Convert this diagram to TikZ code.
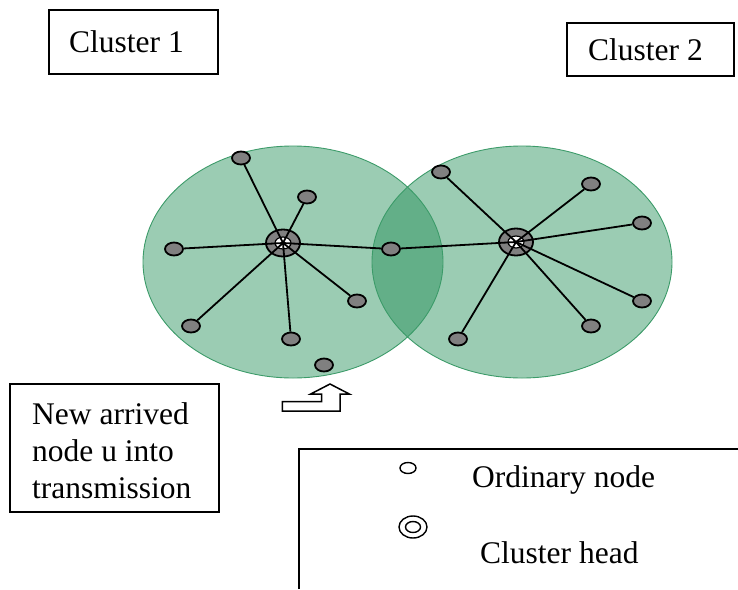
\documentclass[tikz,border=0pt]{standalone}
\usepackage{fontspec}
\setmainfont{Liberation Serif}
\usetikzlibrary{shapes.geometric}

\definecolor{zonefill}{RGB}{28,139,82}
\definecolor{zoneedge}{RGB}{60,155,105}
\definecolor{nodegrey}{RGB}{128,128,128}

\pgfdeclarelayer{zones}
\pgfdeclarelayer{links}
\pgfsetlayers{zones,links,main}

\tikzset{
  zone/.style={fill=zonefill, fill opacity=0.44},
  zoneline/.style={draw=zoneedge, line width=0.9pt},
  ordnode/.style={ellipse, draw=black, fill=nodegrey, line width=1.8pt,
    minimum width=18pt, minimum height=13pt, inner sep=0pt},
  headnode/.style={ellipse, draw=black, fill=nodegrey, line width=1.8pt,
    minimum width=34pt, minimum height=27pt, inner sep=0pt},
  headhole/.style={ellipse, draw=black, fill=white, line width=1.2pt,
    minimum width=16pt, minimum height=12pt, inner sep=0pt},
  link/.style={draw=black, line width=1.8pt},
  labelbox/.style={draw=black, line width=1.2pt, inner sep=0pt},
  legendord/.style={ellipse, draw=black, fill=white, line width=1.4pt,
    minimum width=16pt, minimum height=11pt, inner sep=0pt},
  legendouter/.style={ellipse, draw=black, fill=white, line width=1.4pt,
    minimum width=28pt, minimum height=22pt, inner sep=0pt},
  legendinner/.style={ellipse, draw=black, fill=white, line width=1.4pt,
    minimum width=15pt, minimum height=11pt, inner sep=0pt},
  txt/.style={font=\fontsize{31.5}{37}\selectfont, inner sep=0pt}
}

\begin{document}
\begin{tikzpicture}[x=1pt, y=-1pt]
  \useasboundingbox (0,0) rectangle (738,589);

  % coverage areas of the two clusters
  \begin{pgfonlayer}{zones}
    \fill[zone] (293,262) ellipse [x radius=150, y radius=116];
    \fill[zone] (522,262) ellipse [x radius=150, y radius=116];
    \draw[zoneline] (293,262) ellipse [x radius=150, y radius=116];
    \draw[zoneline] (522,262) ellipse [x radius=150, y radius=116];
  \end{pgfonlayer}

  % cluster heads
  \begin{pgfonlayer}{links}
    \node[headnode] (h1) at (283,243) {};
    \node[headhole] (h1in) at (283,243) {};
    \node[headnode] (h2) at (516,242) {};
    \node[headhole] (h2in) at (516,242) {};
  \end{pgfonlayer}

  % ordinary nodes of cluster 1
  \node[ordnode] (a1) at (241,158) {};
  \node[ordnode] (a2) at (307,197) {};
  \node[ordnode] (a3) at (174,249) {};
  \node[ordnode] (a4) at (357,301) {};
  \node[ordnode] (a5) at (191,326) {};
  \node[ordnode] (a6) at (291,339) {};
  % shared node in the overlap
  \node[ordnode] (s) at (391,249) {};
  % newly arrived node
  \node[ordnode] (u) at (324,365) {};
  % ordinary nodes of cluster 2
  \node[ordnode] (b1) at (441,172) {};
  \node[ordnode] (b2) at (591,184) {};
  \node[ordnode] (b3) at (642,223) {};
  \node[ordnode] (b4) at (642,301) {};
  \node[ordnode] (b5) at (591,326) {};
  \node[ordnode] (b6) at (458,339) {};

  % links from the heads to their members, drawn over the heads
  \begin{pgfonlayer}{links}
    \foreach \m in {a1,a2,a3,a4,a5,a6,s}
      \draw[link] (h1.center) -- (\m);
    \foreach \m in {b1,b2,b3,b4,b5,b6,s}
      \draw[link] (h2.center) -- (\m);
  \end{pgfonlayer}

  % cluster labels
  \node[labelbox, minimum width=169pt, minimum height=64pt] (c1) at (133.5,42) {};
  \node[txt, anchor=base west] (c1t) at (69,52) {Cluster 1};
  \node[labelbox, minimum width=167pt, minimum height=53pt] (c2) at (650.5,49.5) {};
  \node[txt, anchor=base west] (c2t) at (588,60) {Cluster 2};

  % description of the new node
  \node[labelbox, minimum width=209pt, minimum height=128pt] (nb) at (114.5,448) {};
  \node[txt, anchor=base west] (nbt1) at (32,424) {New arrived};
  \node[txt, anchor=base west] (nbt2) at (32,461) {node u into};
  \node[txt, anchor=base west] (nbt3) at (32,498) {transmission};

  % hollow bent arrow pointing at the new node
  \draw[black, fill=white, line width=1.5pt, line join=miter]
    (282.3,411) -- (340,411) -- (340,394) -- (349.3,394) -- (330,384)
    -- (310.7,394) -- (321.7,394) -- (321.7,401.7) -- (282.3,401.7) -- cycle;

  % legend
  \draw[black, line width=1.2pt] (299,589) -- (299,449) -- (738,449);
  \node[legendord] (lo) at (408,468) {};
  \node[txt, anchor=base west] (lot) at (472,487) {Ordinary node};
  \node[legendouter] (lh) at (413,527) {};
  \node[legendinner] (lhi) at (413,527) {};
  \node[txt, anchor=base west] (lht) at (480,563) {Cluster head};
\end{tikzpicture}
\end{document}
